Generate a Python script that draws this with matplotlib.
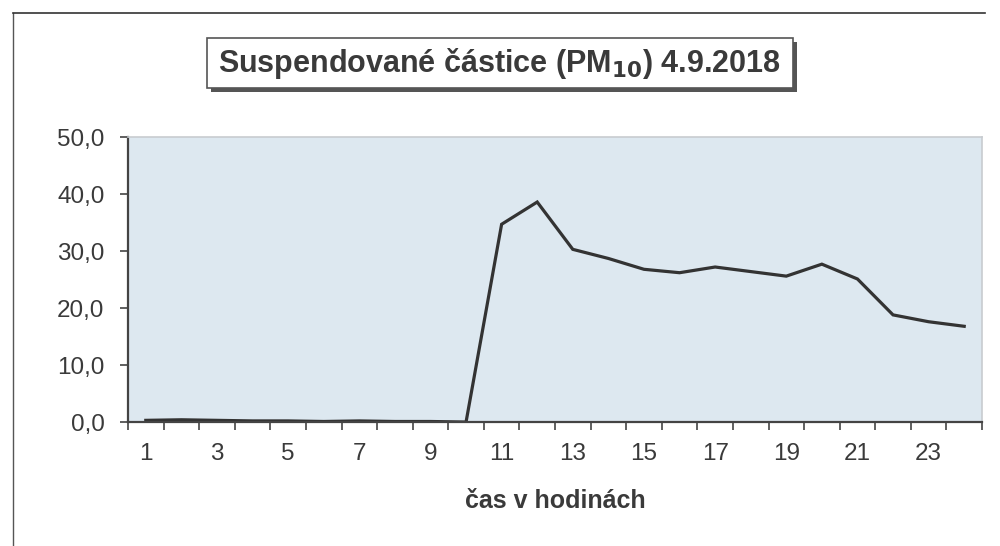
import matplotlib.pyplot as plt
import matplotlib.patches as patches
import numpy as np

plt.rcParams['font.family'] = ['Liberation Sans', 'DejaVu Sans']

# hodiny 1..24 a koncentrace PM10
hours = list(range(1, 25))
pm10 = [0.3, 0.4, 0.3, 0.2, 0.2, 0.1, 0.2, 0.1, 0.1, 0.0,
        34.7, 38.6, 30.3, 28.7, 26.8, 26.2, 27.2, 26.4,
        25.6, 27.7, 25.1, 18.8, 17.6, 16.8]
x_labels = [str(h) if h % 2 == 1 else '' for h in hours]
y_ticks = [0, 10, 20, 30, 40, 50]

text_col = '#3a3a3a'

fig = plt.figure(figsize=(10, 5.46), dpi=100)
fig.patch.set_facecolor('white')

# vnější rámeček
fig.add_artist(plt.Line2D([0.013, 0.013], [0.0, 0.976], color='#555555', lw=1.0))
fig.add_artist(plt.Line2D([0.013, 0.985], [0.976, 0.976], color='#333333', lw=1.2))

ax = fig.add_axes([0.128, 0.227, 0.854, 0.522])
ax.set_facecolor('#dde8f0')
ax.plot(hours, pm10, color='#333333', lw=2.3, solid_joinstyle='miter')

ax.set_xlim(0.5, 24.5)
ax.set_ylim(0, 50)
ax.set_yticks(y_ticks)
ax.set_yticklabels([f'{v:.1f}'.replace('.', ',') for v in y_ticks])
ax.set_xticks(hours)
ax.set_xticklabels(x_labels)
ax.set_xticks(np.arange(0.5, 25, 1), minor=True)
ax.tick_params(axis='x', which='major', length=0, pad=15, labelsize=17.5, labelcolor=text_col)
ax.tick_params(axis='x', which='minor', length=6, width=1.2, color='#444444', direction='out')
ax.tick_params(axis='y', length=6, width=1.2, color='#444444', pad=11, labelsize=17.5, labelcolor=text_col)

for s in ['top', 'right']:
    ax.spines[s].set_color('#c8ccd0')
    ax.spines[s].set_linewidth(1.2)
for s in ['left', 'bottom']:
    ax.spines[s].set_color('#444444')
    ax.spines[s].set_linewidth(1.6)

ax.set_xlabel('čas v hodinách', fontsize=18, fontweight='bold', color=text_col, labelpad=17)

# nadpis v rámečku se stínem
shadow = patches.Rectangle((0.211, 0.831), 0.586, 0.092, transform=fig.transFigure,
                           facecolor='#555555', edgecolor='none')
box = patches.Rectangle((0.207, 0.838), 0.586, 0.092, transform=fig.transFigure,
                        facecolor='white', edgecolor='#555555', lw=1.2)
fig.add_artist(shadow)
fig.add_artist(box)
fig.text(0.499, 0.884, 'Suspendované částice (PM$_{\\mathbf{10}}$) 4.9.2018',
         ha='center', va='center', fontsize=22, fontweight='bold', color=text_col)

fig.savefig('out.png', dpi=100)
